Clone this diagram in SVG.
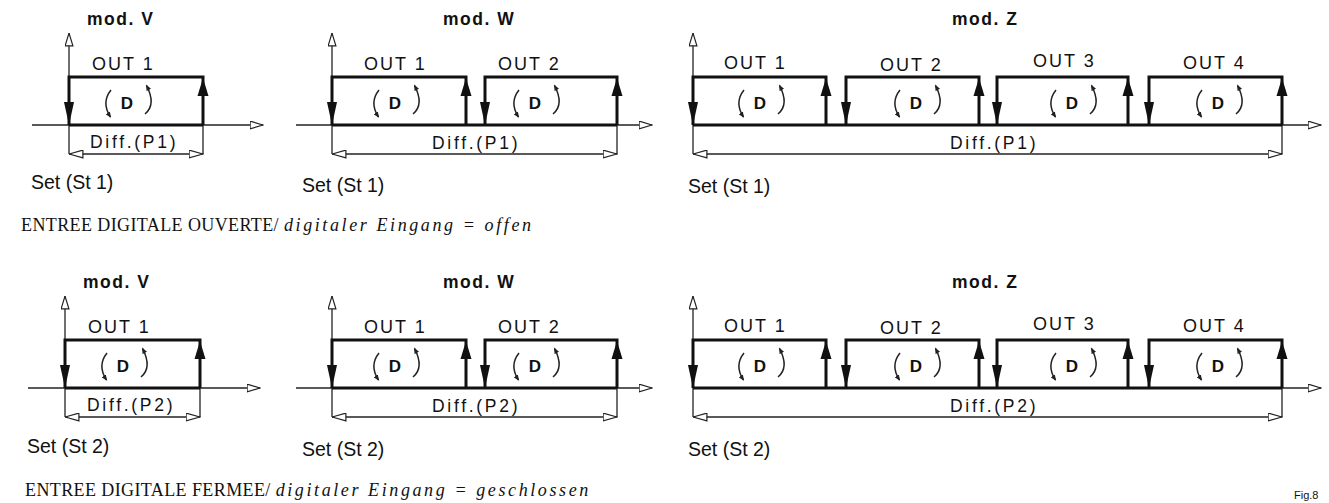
<svg xmlns="http://www.w3.org/2000/svg" width="1329" height="503" viewBox="0 0 1329 503">
<style>
.thick{stroke:#111;stroke-width:3;fill:none;stroke-linejoin:miter}
.thin{stroke:#222;stroke-width:1.3;fill:none}
.ax{stroke:#222;stroke-width:1.3;fill:none;marker-end:url(#oa)}
.dim{stroke:#222;stroke-width:1.3;fill:none;marker-start:url(#da);marker-end:url(#da)}
.arc{stroke:#222;stroke-width:1.5;fill:none;marker-end:url(#ca)}
.fa{fill:#111}
.t{font-family:"Liberation Sans",Arial,sans-serif;fill:#111}
.title{font-size:17.5px;font-weight:bold;letter-spacing:1.5px}
.out{font-size:18px;letter-spacing:2px}
.d{font-size:17px;font-weight:bold;text-anchor:middle}
.diff{font-size:17.5px;letter-spacing:2.7px}
.set{font-size:19.5px}
.cap{font-family:"Liberation Serif","Times New Roman",serif;font-size:18px;fill:#111;letter-spacing:0.4px}
.it{font-style:italic;letter-spacing:2.6px}
.fig{font-family:"Liberation Sans",Arial,sans-serif;font-size:11px;fill:#111}
</style>
<defs>
<marker id="oa" viewBox="0 0 14 9" refX="13.5" refY="4.5" markerWidth="14" markerHeight="9" orient="auto" markerUnits="userSpaceOnUse"><path d="M0.6,0.6 L13.4,4.5 L0.6,8.4 Z" fill="#fff" stroke="#222" stroke-width="1.2"/></marker>
<marker id="da" viewBox="0 0 15 9" refX="14.5" refY="4.5" markerWidth="15" markerHeight="9" orient="auto-start-reverse" markerUnits="userSpaceOnUse"><path d="M0.6,0.6 L14.4,4.5 L0.6,8.4 Z" fill="#fff" stroke="#222" stroke-width="1.2"/></marker>
<marker id="ca" viewBox="0 0 6 5" refX="5" refY="2.5" markerWidth="6" markerHeight="5" orient="auto" markerUnits="userSpaceOnUse"><path d="M0,0 L6,2.5 L0,5 Z" fill="#222"/></marker>
<path id="dn" d="M-5,-23 L5,-23 L0,0 Z" class="fa"/>
<path id="up" d="M-5.5,18 L5.5,18 L0,0 Z" class="fa"/>
<g id="dglyph">
<text class="t d" x="0" y="6">D</text>
<path class="arc" d="M-16,-12.5 Q-26,0 -16.5,14.5"/>
<path class="arc" d="M18,11.5 Q29.5,2 19.5,-17"/>
</g>
</defs>

<!-- ===== TOP ROW ===== -->
<g id="top-modV">
<text class="t title" x="87" y="25">mod. V</text>
<g class="connectors">
<path class="ax" d="M69,154 V33"/>
<path class="ax" d="M32,125 H263"/>
<path class="thin" d="M203,125 V154"/>
<path class="dim" d="M69,154 H203"/>
</g>
<path class="thick" d="M69,125 V77 H203 V125 M69,125 H203"/>
<use href="#dn" x="69" y="125"/><use href="#up" x="203" y="78"/>
<text class="t out" x="92" y="70">OUT 1</text>
<use href="#dglyph" x="127" y="102.5"/>
<text class="t diff" x="90" y="148">Diff.(P1)</text>
<text class="t set" x="31" y="189">Set (St 1)</text>
</g>

<g id="top-modW">
<text class="t title" x="443" y="25">mod. W</text>
<g class="connectors">
<path class="ax" d="M332,154 V33"/>
<path class="ax" d="M296,125 H652"/>
<path class="thin" d="M617,125 V154"/>
<path class="dim" d="M332,154 H617"/>
</g>
<path class="thick" d="M332,125 V77 H466 V125 M485,125 V77 H617 V125 M332,125 H617"/>
<use href="#dn" x="332" y="125"/><use href="#up" x="466" y="78"/>
<use href="#dn" x="485" y="125"/><use href="#up" x="617" y="78"/>
<text class="t out" x="364" y="70">OUT 1</text>
<text class="t out" x="498" y="70">OUT 2</text>
<use href="#dglyph" x="395" y="102.5"/>
<use href="#dglyph" x="535" y="102.5"/>
<text class="t diff" x="432" y="149">Diff.(P1)</text>
<text class="t set" x="302" y="192">Set (St 1)</text>
</g>

<g id="top-modZ">
<text class="t title" x="952" y="25">mod. Z</text>
<g class="connectors">
<path class="ax" d="M693,154 V33"/>
<path class="ax" d="M693,125 H1321"/>
<path class="thin" d="M1282,125 V154"/>
<path class="dim" d="M693,154 H1282"/>
</g>
<path class="thick" d="M693,125 V77 H826 V125 M846,125 V77 H979 V125 M997,125 V77 H1128 V125 M1149,125 V77 H1282 V125 M693,125 H1282"/>
<use href="#dn" x="693" y="125"/><use href="#up" x="826" y="78"/>
<use href="#dn" x="846" y="125"/><use href="#up" x="979" y="78"/>
<use href="#dn" x="997" y="125"/><use href="#up" x="1128" y="78"/>
<use href="#dn" x="1149" y="125"/><use href="#up" x="1282" y="78"/>
<text class="t out" x="724" y="69">OUT 1</text>
<text class="t out" x="880" y="71">OUT 2</text>
<text class="t out" x="1033" y="67">OUT 3</text>
<text class="t out" x="1183" y="69">OUT 4</text>
<use href="#dglyph" x="760" y="102.5"/>
<use href="#dglyph" x="916" y="102.5"/>
<use href="#dglyph" x="1072" y="102.5"/>
<use href="#dglyph" x="1218" y="102.5"/>
<text class="t diff" x="950" y="149">Diff.(P1)</text>
<text class="t set" x="688" y="193">Set (St 1)</text>
</g>

<text id="caption-open" class="cap" x="21" y="231">ENTREE DIGITALE OUVERTE/ <tspan class="it">digitaler Eingang = offen</tspan></text>

<!-- ===== BOTTOM ROW ===== -->
<g id="bottom-modV">
<text class="t title" x="83" y="288">mod. V</text>
<g class="connectors">
<path class="ax" d="M65,417 V296"/>
<path class="ax" d="M28,388 H260"/>
<path class="thin" d="M200,388 V417"/>
<path class="dim" d="M65,417 H200"/>
</g>
<path class="thick" d="M65,388 V340 H200 V388 M65,388 H200"/>
<use href="#dn" x="65" y="388"/><use href="#up" x="200" y="341"/>
<text class="t out" x="88" y="333">OUT 1</text>
<use href="#dglyph" x="123" y="365.5"/>
<text class="t diff" x="87" y="411">Diff.(P2)</text>
<text class="t set" x="27" y="453">Set (St 2)</text>
</g>

<g id="bottom-modW">
<text class="t title" x="443" y="288">mod. W</text>
<g class="connectors">
<path class="ax" d="M332,417 V296"/>
<path class="ax" d="M296,388 H652"/>
<path class="thin" d="M617,388 V417"/>
<path class="dim" d="M332,417 H617"/>
</g>
<path class="thick" d="M332,388 V340 H466 V388 M485,388 V340 H617 V388 M332,388 H617"/>
<use href="#dn" x="332" y="388"/><use href="#up" x="466" y="341"/>
<use href="#dn" x="485" y="388"/><use href="#up" x="617" y="341"/>
<text class="t out" x="364" y="333">OUT 1</text>
<text class="t out" x="498" y="333">OUT 2</text>
<use href="#dglyph" x="395" y="365.5"/>
<use href="#dglyph" x="535" y="365.5"/>
<text class="t diff" x="432" y="412">Diff.(P2)</text>
<text class="t set" x="302" y="456">Set (St 2)</text>
</g>

<g id="bottom-modZ">
<text class="t title" x="952" y="288">mod. Z</text>
<g class="connectors">
<path class="ax" d="M693,417 V296"/>
<path class="ax" d="M693,388 H1321"/>
<path class="thin" d="M1282,388 V417"/>
<path class="dim" d="M693,417 H1282"/>
</g>
<path class="thick" d="M693,388 V340 H826 V388 M846,388 V340 H979 V388 M997,388 V340 H1128 V388 M1149,388 V340 H1282 V388 M693,388 H1282"/>
<use href="#dn" x="693" y="388"/><use href="#up" x="826" y="341"/>
<use href="#dn" x="846" y="388"/><use href="#up" x="979" y="341"/>
<use href="#dn" x="997" y="388"/><use href="#up" x="1128" y="341"/>
<use href="#dn" x="1149" y="388"/><use href="#up" x="1282" y="341"/>
<text class="t out" x="724" y="332">OUT 1</text>
<text class="t out" x="880" y="334">OUT 2</text>
<text class="t out" x="1033" y="330">OUT 3</text>
<text class="t out" x="1183" y="332">OUT 4</text>
<use href="#dglyph" x="760" y="365.5"/>
<use href="#dglyph" x="916" y="365.5"/>
<use href="#dglyph" x="1072" y="365.5"/>
<use href="#dglyph" x="1218" y="365.5"/>
<text class="t diff" x="950" y="412">Diff.(P2)</text>
<text class="t set" x="688" y="456">Set (St 2)</text>
</g>

<text id="caption-closed" class="cap" x="25" y="496">ENTREE DIGITALE FERMEE/ <tspan class="it">digitaler Eingang = geschlossen</tspan></text>

<text id="fig-label" class="fig" x="1294" y="499">Fig.8</text>
</svg>
